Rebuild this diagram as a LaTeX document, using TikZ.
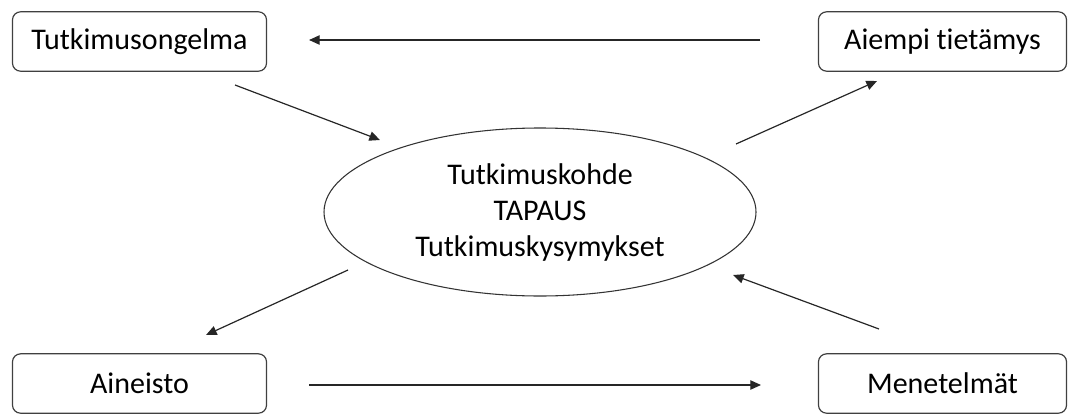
\documentclass[tikz,border=0pt]{standalone}
\usepackage{fontspec}
\setmainfont[Ligatures={NoCommon}]{Carlito}
\usetikzlibrary{shapes.geometric,arrows.meta}
\begin{document}
\begin{tikzpicture}[x=0.75pt,y=-0.75pt,
  txt/.style={font=\fontsize{22.5}{27}\selectfont, text=black},
  box/.style={txt, draw=black!75, line width=0.9pt, rounded corners=6pt, inner sep=0pt, minimum height=44.5pt},
  lbox/.style={box, minimum width=190.5pt},
  rbox/.style={box, minimum width=186pt},
  oval/.style={txt, ellipse, draw=black!80, line width=0.8pt, minimum width=324pt, minimum height=126pt, inner sep=0pt, align=center},
  conn/.style={draw=black!85, line width=0.9pt, -{Triangle[length=8pt,width=7pt]}}
]
\useasboundingbox (0,0) rectangle (1069,414);
\node[lbox] (ongelma) at (139.5,41.5) {Tutkimusongelma};
\node[rbox] (aiempi) at (942.5,41.5) {Aiempi tietämys};
\node[lbox] (aineisto) at (139.5,383.5) {Aineisto};
\node[rbox] (menetelmat) at (942.5,383.5) {Menetelmät};
\node[oval] (kohde) at (540,212) {Tutkimuskohde\\TAPAUS\\Tutkimuskysymykset};

\coordinate (c1s) at (760,40);   \coordinate (c1e) at (309,40);
\coordinate (c2s) at (235,85);   \coordinate (c2e) at (380,140);
\coordinate (c3s) at (736,144);  \coordinate (c3e) at (877,81);
\coordinate (c4s) at (348,270);  \coordinate (c4e) at (206,335);
\coordinate (c5s) at (309,385);  \coordinate (c5e) at (761,385);
\coordinate (c6s) at (879,329);  \coordinate (c6e) at (733,275);

\draw[conn] (c1s) -- (c1e);
\draw[conn] (c2s) -- (c2e);
\draw[conn] (c3s) -- (c3e);
\draw[conn] (c4s) -- (c4e);
\draw[conn] (c5s) -- (c5e);
\draw[conn] (c6s) -- (c6e);
\end{tikzpicture}
\end{document}
